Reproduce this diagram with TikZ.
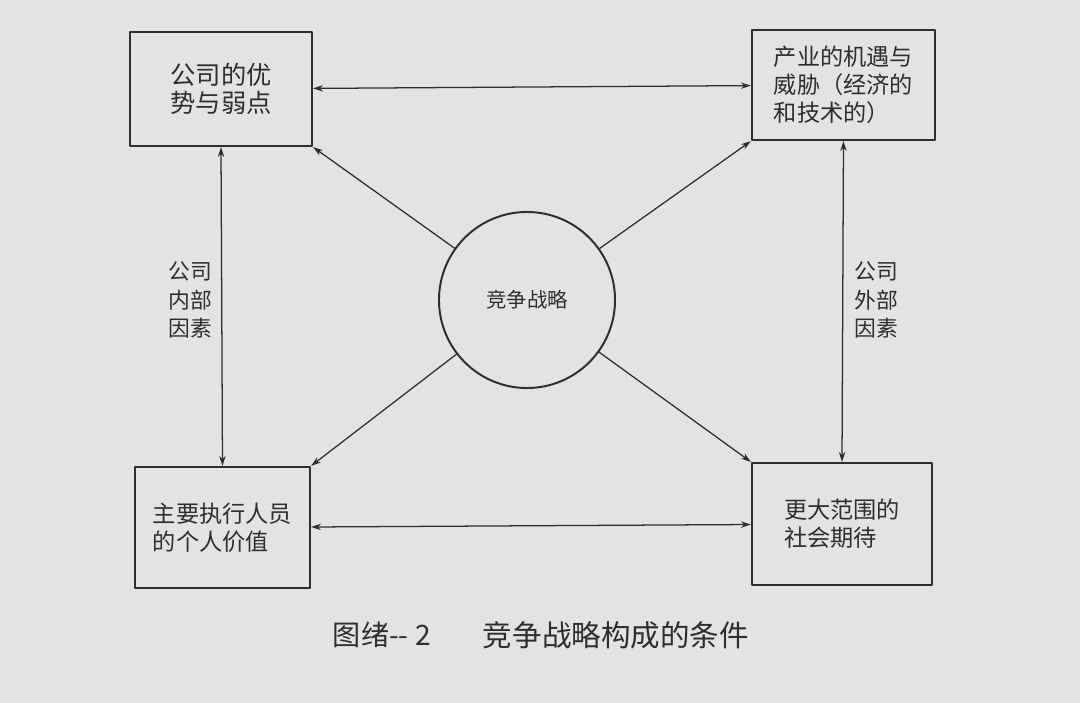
\documentclass[tikz,border=0pt]{standalone}
\usepackage{fontspec}
\setmainfont{Noto Sans CJK SC}
\usetikzlibrary{positioning,arrows.meta}
\definecolor{zhibei}{HTML}{E3E3E1}
\definecolor{mo}{HTML}{2E2E2E}
\tikzset{
    kuang/.style={draw=mo, line width=1.6pt, text=mo, align=left, font=\fontsize{16.5}{20}\selectfont},
    lian/.style={<->, draw=mo, line width=0.9pt},
    zhi/.style={->, draw=mo, line width=0.9pt},
    yinsu/.style={text=mo, align=center, font=\fontsize{15.5}{20}\selectfont},
}
\begin{document}
\begin{tikzpicture}[>={Stealth[length=7pt,width=4.5pt]}, x=0.025cm, y=-0.025cm, line join=round, line cap=round]
    \fill[zhibei] (0,0) rectangle (1080,703);
    \useasboundingbox (0,0) rectangle (1080,703);
    % 四个方框与中心圆
    \node[kuang, minimum width=4.55cm, minimum height=2.85cm, font=\fontsize{18}{20}\selectfont] (youshi) at (221,89) {公司的优\\势与弱点};
    \node[kuang, minimum width=4.575cm, minimum height=2.75cm] (jiyu) at (843.5,85) {产业的机遇与\\威胁（经济的\\和技术的）};
    \node[kuang, minimum width=4.375cm, minimum height=3.025cm] (jiazhi) at (222.5,527.5) {主要执行人员\\的个人价值};
    \node[kuang, minimum width=4.5cm, minimum height=3.05cm] (qidai) at (842,524) {更大范围的\\社会期待};
    \node[circle, draw=mo, line width=1.4pt, minimum size=4.4cm, text=mo, font=\fontsize{14.5}{18}\selectfont] (zhanlue) at (527,300) {竞争战略};
    % 连线
    \draw[lian] (youshi) -- (jiyu);
    \draw[lian] (jiazhi) -- (qidai);
    \draw[lian] (youshi.south) -- (jiazhi.north);
    \draw[lian] (jiyu.south) -- (qidai.north);
    \draw[zhi] (zhanlue) -- (youshi.south east);
    \draw[zhi] (zhanlue) -- (jiyu.south west);
    \draw[zhi] (zhanlue) -- (jiazhi.north east);
    \draw[zhi] (zhanlue) -- (qidai.north west);
    % 标注
    \node[yinsu] (neibu) at (190,300) {公司\\内部\\因素};
    \node[yinsu] (waibu) at (876,300) {公司\\外部\\因素};
    \node[text=mo, anchor=west, font=\fontsize{20}{24}\selectfont] (tuxu) at (328,635) {图绪-{}- 2};
    \node[text=mo, anchor=west, font=\fontsize{21}{24}\selectfont] (tiaojian) at (478,635) {竞争战略构成的条件};
\end{tikzpicture}
\end{document}
